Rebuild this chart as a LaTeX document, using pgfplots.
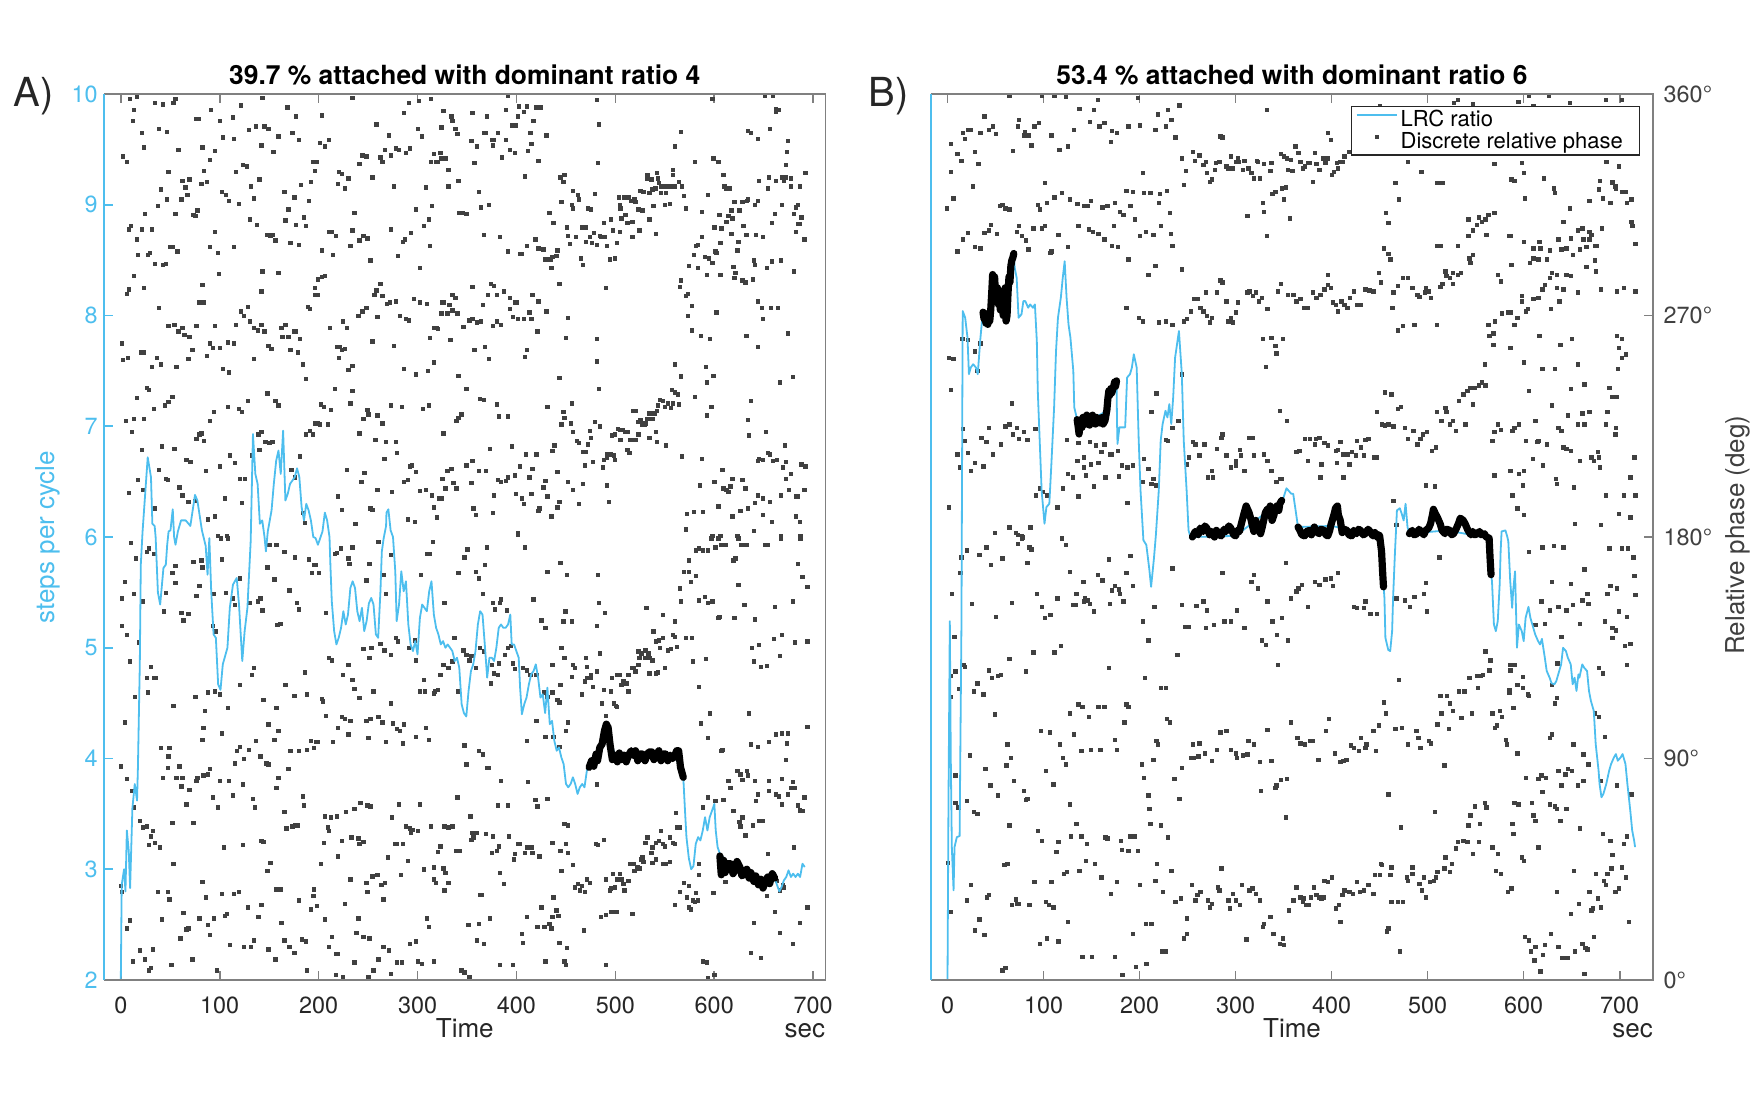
\documentclass[border=0pt]{standalone}
\usepackage{fontspec}
\setmainfont{TeX Gyre Heros}
\usepackage{pgfplots}
\pgfplotsset{compat=1.18}
\definecolor{lrc}{HTML}{4DBEEE}
\definecolor{dotc}{HTML}{404040}
\definecolor{framec}{HTML}{808080}
\definecolor{txt}{HTML}{262626}
\definecolor{rtxt}{HTML}{404040}
\newcommand{\tickfont}{\fontsize{11.7}{13}\selectfont}
\newcommand{\labfont}{\fontsize{13}{15}\selectfont}
\pgfplotsset{
  panel/.style={
    scale only axis, height=443pt,
    ymin=2, ymax=10,
    clip mode=individual,
    tick align=inside, major tick length=4.5pt,
    axis line style={draw=none},
    xtick={0,100,200,300,400,500,600,700}, xtick pos=both,
    x tick style={color=framec, line width=0.8pt},
    xticklabel style={font=\tickfont, color=txt, inner sep=0pt, yshift=-8.5pt},
    /pgf/number format/assume math mode=true,
    every axis title/.style={font=\bfseries\fontsize{13.2}{15}\selectfont, color=black, at={(0.5,1)}, anchor=base, yshift=5pt, inner sep=0pt},
    xlabel style={font=\labfont, color=txt, at={(0.5,0)}, anchor=base, yshift=-28.5pt, inner sep=0pt},
  },
  dotstyle/.style={only marks, mark=square*, mark size=0.85pt, color=dotc, mark options={line width=0.1pt}},
  lrcstyle/.style={color=lrc, line width=0.9pt, no markers, line join=round},
  lockstyle/.style={color=black, line width=3.6pt, no markers, line join=round, line cap=round},
  lrclegend/.style={legend image code/.code={\draw[##1] (0pt,2.6pt) -- (20pt,2.6pt);}},
  dotlegend/.style={legend image code/.code={\draw[##1] plot coordinates {(10pt,2.6pt)};}},
}
\begin{document}
\begin{tikzpicture}
\useasboundingbox (0,0) rectangle (877pt,552pt);
% ---------------- Panel A ----------------
\begin{axis}[panel, at={(52pt,62pt)}, anchor=south west, width=360.75pt,
  xmin=-17, xmax=712.5,
  ytick={2,3,4,5,6,7,8,9,10}, ytick pos=left,
  y tick style={color=lrc, line width=0.8pt},
  yticklabel style={font=\tickfont, color=lrc, inner sep=0pt, xshift=-3pt},
  title={39.7 \% attached with dominant ratio 4},
  xlabel={Time}]
\addplot[dotstyle] coordinates {
(2,9.44)(6,9.39)(9,9.96)(16,9.98)(13,9.86)(12,9.76)(21,9.65)(23,9.52)(34,9.92)(42,9.91)(53,9.92)(55,9.96)(38,9.69)(46,9.66)(48,9.30)(40,9.14)(46,9.05)(37,8.99)(24,8.92)(10,8.81)(8,8.78)(16,8.69)(21,8.78)(31,8.78)(17,8.55)(27,8.55)(29,8.57)(34,8.47)(42,8.46)(45,8.47)(50,8.62)(52,8.62)(57,8.58)(13,8.36)(8,8.24)(6,8.20)(23,8.25)(38,8.07)(1,7.75)(2,7.60)(7,7.62)(20,7.67)(23,7.67)(31,7.54)(36,7.62)(40,7.56)(26,7.35)(28,7.33)(16,7.26)(5,7.05)(13,7.07)(23,7.07)(11,6.95)(33,7.16)(44,7.19)(48,7.22)(52,7.27)(21,6.79)(41,6.82)(38,6.61)(54,6.80)(45,6.53)(47,6.52)(17,6.52)(8,6.40)(22,6.43)(34,6.26)(58,9.50)(62,9.22)(65,9.16)(69,9.23)(67,9.09)(61,9.05)(76,9.78)(78,9.78)(82,9.52)(81,9.19)(87,9.21)(84,9.31)(90,9.41)(91,9.86)(95,9.49)(55,8.92)(73,8.91)(77,8.95)(75,8.90)(82,8.28)(79,8.12)(83,8.12)(48,7.91)(54,7.92)(58,7.86)(62,7.89)(64,7.83)(69,7.81)(76,7.91)(56,7.54)(68,7.61)(72,7.69)(87,7.64)(90,7.75)(93,7.71)(95,7.91)(79,6.93)(81,6.94)(76,6.89)(84,6.87)(59,6.45)(62,6.38)(66,6.70)(70,6.68)(68,6.32)(75,6.33)(88,6.16)(95,6.19)(90,7.05)(94,7.13)(86,6.60)
(100,9.76)(103,9.61)(114,9.60)(113,9.79)(121,9.90)(99,8.38)(98,8.57)(90,8.62)(95,8.76)(102,9.12)(106,9.09)(109,9.04)(119,9.01)(114,8.62)(116,9.30)(123,9.36)(127,9.35)(103,7.52)(109,7.49)(108,7.76)(100,7.71)(114,7.75)(116,7.92)(121,8.04)(124,8.00)(128,8.08)(130,7.95)(134,7.89)(131,9.17)(134,9.06)(140,9.23)(143,8.40)(142,8.22)(148,8.73)(151,8.72)(153,8.73)(156,8.68)(129,9.68)(136,9.71)(142,9.54)(145,9.71)(149,9.69)(154,9.48)(159,9.62)(168,9.88)(177,9.80)(173,9.65)(180,9.59)(143,9.97)(137,8.82)(130,8.87)(165,9.12)(175,9.07)(169,8.96)(166,8.86)(177,8.82)(185,8.89)(187,8.81)(182,9.18)(190,9.04)(171,8.66)(180,8.64)(159,8.39)(108,7.18)(100,6.64)(105,6.35)(110,6.74)(115,6.67)(120,6.53)(122,6.31)(125,6.53)(107,6.01)(98,6.01)(119,7.16)(122,7.13)(128,7.23)(134,7.61)(138,7.87)(142,7.92)(145,7.86)(149,7.73)(152,7.70)(162,7.89)(166,7.92)(163,7.81)(169,7.81)(175,7.86)(177,7.86)(181,7.79)(171,7.69)(179,7.67)(184,7.56)(187,7.43)(148,7.30)(156,7.23)(159,7.19)(139,6.93)(142,6.95)(146,6.86)(150,6.85)(132,6.74)(140,6.79)(153,6.86)(172,6.61)(176,6.54)(181,6.73)(191,6.96)(194,6.93)(184,6.22)(186,6.13)
(203,9.81)(201,9.56)(206,9.53)(210,9.59)(194,9.39)(198,9.39)(196,9.31)(192,9.21)(203,8.59)(210,8.76)(213,8.76)(217,8.72)(214,8.55)(220,9.30)(223,9.28)(219,9.19)(226,9.15)(230,9.24)(236,8.93)(234,9.97)(234,8.77)(232,8.63)(241,8.68)(245,8.72)(249,8.70)(252,8.50)(241,9.37)(244,9.45)(248,9.44)(254,9.25)(258,9.73)(262,9.43)(264,9.39)(267,9.50)(271,9.63)(273,9.45)(278,9.51)(281,9.50)(288,9.47)(292,9.51)(286,9.83)(291,9.92)(301,9.94)(300,9.69)(304,9.62)(313,9.96)(276,9.17)(273,8.78)(285,8.67)(287,8.69)(280,8.54)(293,8.75)(298,8.96)(306,8.81)(308,9.16)(311,8.87)(314,8.99)(316,9.46)(313,9.39)(312,8.63)(302,8.43)(196,8.25)(199,8.33)(203,8.35)(206,8.36)(196,8.19)(199,8.19)(189,8.08)(191,8.06)(211,7.89)(224,7.95)(221,7.72)(223,7.69)(226,7.70)(220,7.62)(218,7.72)(234,7.55)(230,7.51)(228,7.89)(240,8.00)(244,8.04)(248,8.07)(259,7.99)(256,8.19)(258,8.23)(262,8.29)(264,8.18)(269,8.11)(272,8.12)(278,8.13)(282,8.00)(288,7.97)(291,7.96)(296,8.15)(302,8.12)(309,8.11)(254,7.77)(276,7.73)(286,7.52)(298,7.47)(310,7.50)(316,7.58)(319,7.89)(320,7.88)(325,8.12)(330,8.02)(333,7.78)(216,7.34)(209,7.02)(202,7.20)(205,7.18)(212,7.15)(201,7.02)(196,7.03)(199,7.03)(187,6.93)(232,7.21)(234,7.32)(241,6.94)(245,7.07)(249,7.15)(250,7.11)(257,6.88)(259,7.10)(264,7.03)(268,6.86)(273,7.19)(278,6.86)(284,7.18)(279,6.76)(266,6.71)(259,6.43)(274,6.41)(286,6.50)(290,6.52)(292,6.64)(294,6.65)(298,6.59)(302,6.42)(305,7.16)(311,7.19)(308,6.43)(237,6.12)(243,6.50)(246,6.58)(228,6.61)(219,6.37)(223,6.25)(290,6.16)(297,6.14)(252,6.26)(254,6.25)
(326,9.85)(334,9.80)(338,9.69)(340,9.64)(324,9.70)(328,9.42)(318,9.39)(324,9.42)(320,9.39)(331,9.32)(323,9.47)(335,9.76)(355,9.83)(370,9.80)(367,9.65)(369,9.65)(354,9.58)(360,9.53)(375,9.59)(377,9.59)(381,9.65)(376,9.54)(389,9.59)(399,9.72)(395,9.72)(407,9.84)(402,9.89)(410,9.89)(417,9.76)(401,9.80)(389,9.86)(391,9.99)(414,9.65)(415,9.55)(430,9.63)(420,9.88)(424,9.88)(393,9.50)(398,9.47)(411,9.49)(385,9.43)(422,9.40)(357,9.38)(341,9.22)(331,9.17)(362,9.12)(372,9.00)(364,8.98)(345,8.93)(349,8.92)(342,8.93)(367,8.73)(383,8.71)(391,8.58)(405,8.56)(408,9.26)(422,8.13)(416,8.19)(398,8.12)(400,8.12)(393,8.16)(387,8.22)(380,8.19)(377,8.27)(371,8.19)(374,8.29)(366,8.10)(355,8.26)(335,8.19)(338,8.16)(326,8.12)(332,8.10)(335,8.05)(340,8.02)(330,8.02)(324,8.02)(352,7.96)(355,7.97)(360,7.94)(346,7.90)(364,7.95)(376,7.91)(380,7.95)(384,7.92)(393,8.06)(396,7.99)(401,7.97)(407,7.97)(413,8.03)(415,7.97)(421,7.86)(430,8.04)(312,7.80)(316,7.89)(319,7.89)(341,7.46)(349,7.34)(357,7.69)(368,7.72)(372,7.61)(408,7.63)(410,7.69)(363,7.25)(367,7.24)(380,7.20)(382,7.09)(391,7.09)(431,7.18)(341,7.08)(344,7.11)(339,7.05)(326,6.94)(330,6.60)(334,6.62)(325,6.53)(328,6.44)(336,6.49)(339,6.44)(349,6.65)(355,6.69)(362,6.60)(369,6.60)(354,6.49)(373,6.80)(381,6.52)(384,6.50)(389,6.51)(391,6.54)(395,6.82)(398,6.56)(403,6.64)(409,6.75)(413,6.54)(416,6.62)(399,6.39)(405,6.35)(407,6.30)(415,6.39)(429,6.51)(427,6.45)(423,6.26)(422,6.24)(435,6.19)(431,6.37)(377,6.38)(376,6.22)(359,6.20)(356,6.26)(316,6.27)(319,6.18)(321,6.35)(324,6.35)(314,6.38)(401,6.04)(420,6.75)
(444,9.25)(448,9.27)(447,9.21)(457,9.13)(462,9.09)(463,9.05)(445,9.03)(456,9.00)(457,8.97)(472,8.97)(475,8.96)(479,9.10)(488,8.84)(495,8.87)(433,8.93)(437,8.84)(451,8.80)(466,8.80)(470,8.80)(460,8.71)(474,8.71)(485,8.71)(484,8.72)(478,8.75)(481,8.64)(491,8.63)(489,8.71)(501,8.66)(497,8.77)(504,8.76)(505,8.97)(504,9.00)(503,9.07)(506,8.88)(510,8.91)(509,9.07)(513,9.07)(516,9.04)(519,9.05)(520,9.03)(523,8.96)(525,9.13)(528,9.12)(532,9.24)(534,9.11)(536,9.23)(537,9.14)(540,9.15)(544,9.20)(543,9.24)(546,9.17)(549,9.17)(551,9.11)(553,9.17)(556,9.17)(558,9.32)(558,9.27)(560,9.17)(564,9.21)(567,9.17)(569,9.08)(546,9.11)(532,9.27)(542,9.29)(517,8.71)(524,8.77)(541,8.74)(538,8.99)(550,9.00)(555,9.01)(571,8.97)(527,8.95)(534,8.87)(517,8.85)(512,8.84)(419,8.69)(422,8.61)(410,8.63)(403,8.56)(427,8.60)(429,8.51)(434,8.51)(436,8.53)(441,8.59)(440,8.54)(435,8.43)(443,8.29)(452,8.72)(454,8.65)(465,8.52)(467,8.46)(470,8.67)(476,8.66)(494,8.51)(499,8.52)(490,8.25)(482,9.38)(483,9.73)(481,9.95)(447,7.13)(448,7.08)(456,7.21)(457,6.95)(445,7.02)(455,7.03)(461,6.87)(463,6.85)(467,6.77)(470,6.77)(474,6.96)(475,6.90)(472,6.84)(479,7.04)(484,7.00)(483,7.34)(481,7.59)(481,7.79)(450,7.80)(443,7.44)(452,7.98)(491,6.75)(495,6.75)(498,6.74)(499,6.70)(488,6.70)(487,6.63)(491,6.72)(496,6.92)(499,6.93)(502,6.98)(504,6.97)(505,6.88)(507,6.97)(510,6.95)(512,6.95)(515,6.88)(518,7.14)(520,7.14)(523,7.04)(525,7.06)(527,7.02)(529,7.02)(530,7.03)(534,6.90)(534,7.12)(537,7.07)(539,7.12)(542,7.14)(543,7.19)(545,7.24)(548,7.23)(550,7.18)(553,7.21)(556,7.17)(558,7.21)(557,7.33)(560,7.31)(563,7.29)(564,7.20)(542,6.86)(551,6.83)(541,6.95)(532,7.07)(520,6.88)(523,6.93)(512,6.79)(514,6.76)(457,6.43)(452,6.50)(463,6.30)(467,6.48)(491,6.47)(493,6.32)(469,6.65)(477,6.68)(441,6.59)(438,6.83)(436,6.78)(441,6.27)(443,6.32)(567,6.73)(571,6.07)(560,7.56)(566,7.46)(560,9.53)(566,9.66)
(580,9.39)(599,9.42)(604,9.39)(609,9.27)(612,9.15)(615,9.15)(610,9.17)(593,9.09)(587,8.94)(605,8.91)(600,8.80)(607,8.79)(612,8.85)(617,8.95)(618,8.88)(614,8.90)(620,9.03)(625,8.95)(628,9.03)(634,9.05)(633,9.04)(644,9.04)(641,9.00)(645,9.22)(654,9.15)(655,9.25)(662,9.22)(668,9.25)(670,9.22)(672,9.25)(677,9.24)(677,9.17)(686,9.17)(692,9.29)(682,8.98)(684,9.00)(680,8.92)(688,8.89)(684,8.83)(686,8.83)(682,8.76)(691,8.69)(668,9.00)(661,8.92)(658,8.84)(649,8.71)(642,8.73)(632,8.73)(629,8.81)(617,8.74)(587,8.71)(583,8.64)(581,8.63)(579,8.55)(590,8.53)(594,8.52)(598,8.48)(601,8.58)(602,8.57)(606,8.66)(624,8.67)(623,8.59)(619,8.44)(621,8.39)(620,8.34)(628,8.32)(631,8.30)(639,8.33)(641,8.46)(640,8.50)(653,8.43)(658,8.49)(667,8.50)(680,8.40)(574,8.45)(583,8.43)(592,8.37)(606,8.37)(566,8.32)(565,8.26)(573,8.20)(571,8.18)(577,8.09)(573,8.00)(577,7.87)(586,7.82)(595,7.79)(602,8.03)(644,8.13)(648,8.07)(649,7.97)(657,8.07)(664,8.07)(632,7.82)(644,7.72)(674,7.84)(634,9.67)(637,9.65)(644,9.60)(656,9.69)(662,9.87)(665,9.86)(674,9.58)(673,9.48)(672,9.36)(598,9.96)(651,9.99)(659,9.99)(662,9.84)(566,7.45)(591,7.54)(592,7.40)(599,7.46)(580,7.27)(592,7.10)(597,7.18)(637,7.23)(634,7.06)(635,6.92)(652,6.95)(666,7.40)(679,7.45)(671,6.83)(654,6.76)(656,6.75)(645,6.71)(644,6.69)(649,6.70)(659,6.69)(663,6.70)(672,6.68)(677,6.57)(669,6.63)(672,6.53)(688,6.66)(692,6.64)(608,6.61)(600,6.50)(609,6.44)(612,6.43)(616,6.46)(618,6.53)(628,6.52)(631,6.44)(614,6.41)(585,6.47)(587,6.71)(644,6.38)(649,6.35)(656,6.32)(667,6.38)(675,6.43)(682,6.37)(684,6.37)(691,6.43)(604,6.28)(572,6.21)(579,6.23)(588,6.23)(618,6.19)(626,6.24)(634,6.26)(641,6.31)(649,6.20)(658,6.14)(682,6.19)(686,6.14)(640,6.06)(606,6.01)(598,6.01)(623,6.01)(667,6.01)(687,6.01)
(10,5.95)(15,5.81)(26,5.87)(28,5.90)(33,5.85)(4,5.60)(13,5.49)(1,5.45)(22,5.42)(45,5.50)(43,5.33)(55,5.59)(52,5.68)(55,5.74)(61,5.32)(63,5.25)(68,5.31)(73,5.78)(81,5.79)(82,5.73)(79,5.56)(76,5.47)(94,5.49)(96,5.15)(93,5.20)(102,5.80)(101,5.99)(108,5.99)(106,5.50)(120,5.63)(115,5.39)(113,5.45)(130,5.41)(138,5.42)(141,5.45)(143,5.34)(148,5.73)(150,5.93)(157,5.93)(155,5.62)(165,5.87)(170,5.52)(176,5.82)(178,5.41)(180,5.35)(161,5.22)(158,5.21)(195,5.75)(197,5.75)(190,5.80)(193,5.68)(200,5.68)(207,5.32)(216,5.85)(218,5.86)(222,5.90)(230,5.81)(234,5.91)(231,5.76)(251,5.76)(248,5.61)(268,5.49)(260,5.96)(273,5.84)(265,5.66)(309,5.85)(312,5.85)(315,5.96)(303,5.66)(327,5.41)(341,5.68)(347,5.82)(350,5.89)(359,5.69)(362,5.63)(368,5.75)(370,5.91)(366,5.49)(376,5.41)(383,5.41)(384,5.44)(378,5.35)(390,5.34)(401,6.02)(408,5.91)(417,5.44)(425,5.25)(429,5.18)(431,5.69)(449,5.33)(451,5.66)(456,5.24)(447,5.24)(444,5.77)(481,5.20)(482,5.66)(483,5.41)(489,5.32)(531,5.36)(548,5.30)(560,5.24)(566,5.42)(569,5.69)(574,5.69)(565,5.54)(576,5.60)(581,5.65)(574,5.79)(584,5.90)(581,5.88)(588,5.88)(593,5.88)(597,5.99)(601,5.91)(604,5.99)(607,5.93)(611,5.93)(619,5.79)(621,5.81)(624,5.99)(627,5.93)(632,5.93)(651,5.93)(654,5.93)(667,5.99)(687,5.99)(684,5.76)(689,5.64)(694,5.55)(624,5.57)(590,5.46)(584,5.43)(593,5.41)(598,5.42)(604,5.27)(620,5.27)(641,5.26)(630,5.39)(661,5.37)(679,5.42)(660,5.08)(668,5.12)(681,5.05)(577,5.09)(571,5.09)
(638,5.00)(645,5.03)(640,4.88)(647,4.83)(653,4.84)(666,4.93)(578,4.88)(591,4.90)(584,4.65)(595,4.41)(586,4.32)(593,4.19)(607,4.07)(608,4.08)(635,4.41)(637,4.13)(644,4.11)(655,4.15)(662,4.22)(668,4.23)(674,4.23)(673,4.14)(694,4.29)(672,3.99)(679,3.79)(694,5.06)(605,5.28)
(445,5.00)(448,4.91)(457,4.85)(459,4.82)(470,4.91)(471,4.83)(475,4.73)(484,4.95)(469,4.70)(477,4.65)(466,4.58)(488,4.62)(486,4.50)(495,4.61)(496,4.73)(501,4.76)(504,4.76)(506,4.67)(508,4.70)(511,4.68)(513,4.61)(518,4.82)(520,4.79)(523,4.85)(524,4.91)(526,4.95)(530,4.98)(533,4.95)(534,4.91)(534,4.77)(537,4.89)(538,5.15)(541,5.06)(544,5.07)(545,5.00)(548,5.09)(550,4.82)(553,4.98)(556,4.99)(558,5.12)(560,5.10)(562,5.01)(541,4.77)(543,4.78)(523,4.97)(530,4.91)(513,4.76)(517,4.82)(498,4.50)(501,4.47)(490,4.39)(452,4.33)(481,4.79)(471,4.73)(475,4.76)
(436,4.85)(444,4.67)(436,4.60)(441,4.53)(443,4.51)(431,4.56)(428,4.60)(420,4.76)(414,4.76)(410,4.80)(406,4.82)(396,4.86)(398,4.81)(391,5.00)(388,4.94)(394,5.02)(382,4.86)(375,4.85)(381,4.76)(377,4.77)(374,4.68)(367,4.97)(363,5.00)(349,4.94)(352,4.89)(359,4.82)(354,4.93)(346,4.98)(341,4.61)(337,5.09)(335,4.88)(331,4.82)(326,4.85)(323,4.76)(320,4.62)(317,4.61)(316,4.59)(307,4.61)(306,4.71)(302,4.61)(298,4.89)(297,5.07)(291,5.00)(280,5.06)(278,5.09)(273,4.94)(266,4.98)(262,5.04)(253,5.00)(251,4.91)(245,4.99)(241,4.55)(255,4.61)(273,4.50)(236,4.63)(234,4.71)(230,4.85)(224,4.76)(213,4.89)(210,4.91)(203,4.54)(204,4.52)(186,4.78)(188,4.58)(175,4.57)(166,4.67)(157,4.46)(144,4.53)(134,4.82)(132,4.76)(120,4.67)(108,4.46)(88,4.60)(100,4.58)(95,4.61)(75,4.56)(53,4.48)(33,4.73)(35,4.73)(26,4.73)(30,4.83)(27,4.60)(14,4.56)(9,4.88)(1,5.20)(6,5.12)(18,5.05)(4,4.33)(40,4.10)(49,4.10)(48,4.02)(59,3.93)(47,3.92)(82,4.17)(85,4.43)(83,4.28)(102,4.23)(120,4.11)(117,4.07)(115,3.96)(124,4.00)(129,4.08)(136,4.16)(141,4.02)(147,3.96)(155,4.17)(149,4.31)(159,4.25)(171,4.07)(180,4.07)(188,4.08)(197,4.15)(199,4.15)(195,4.10)(192,4.16)(207,4.39)(214,4.15)(219,4.28)(223,4.38)(226,4.36)(230,4.22)(232,4.34)(248,4.34)(252,4.36)(260,4.38)(264,4.33)(250,4.19)(268,4.15)(275,4.32)(279,4.27)(282,4.25)(286,4.31)(285,4.14)(298,4.20)(308,4.28)(311,4.17)(347,4.12)(349,3.95)(362,4.07)(366,4.04)(370,3.92)(372,3.92)(384,3.80)(410,4.16)(420,4.34)(429,4.20)(437,4.20)(443,4.11)(450,4.25)(481,3.77)(500,4.48)(456,4.74)
(0,3.93)(6,3.82)(11,3.71)(13,3.56)(19,3.44)(22,3.38)(26,3.39)(30,3.30)(32,3.35)(28,3.22)(34,3.24)(39,3.20)(53,3.05)(52,3.42)(42,3.83)(56,3.83)(62,3.83)(61,3.75)(69,3.72)(77,3.83)(76,3.80)(83,3.85)(88,3.86)(90,3.91)(93,3.65)(98,3.56)(100,3.80)(109,3.80)(113,3.67)(123,3.77)(133,3.64)(135,3.56)(123,3.22)(104,3.20)(82,2.89)(73,3.42)(66,3.59)(157,3.74)(159,3.83)(149,3.95)(165,3.52)(169,3.91)(184,3.66)(185,3.58)(176,3.40)(179,3.40)(173,3.39)(167,3.37)(148,2.99)(151,3.06)(144,3.25)(142,3.26)(157,2.82)(161,2.82)(180,2.72)(195,2.82)(194,2.76)(202,3.05)(205,3.24)(206,3.48)(209,3.38)(210,3.35)(212,3.47)(218,3.48)(219,3.12)(223,3.26)(227,3.52)(232,2.91)(233,3.29)(236,3.55)(240,3.28)(241,3.23)(245,3.25)(242,3.60)(249,3.58)(252,3.57)(248,2.88)(249,2.80)(254,2.94)(259,2.95)(263,2.86)(267,2.88)(265,2.73)(270,3.11)(274,3.47)(277,3.23)(283,2.95)(279,3.23)(285,3.23)(281,3.59)(288,3.39)(290,3.08)(292,3.37)(295,3.36)(293,3.33)(300,3.35)(302,3.59)(306,3.00)(313,3.39)(316,3.02)(316,2.91)(318,2.88)(320,3.16)(323,3.21)(326,3.01)(328,2.97)(331,2.88)(327,3.39)(331,3.38)(335,3.39)(339,3.17)(342,3.17)(340,3.65)(353,3.48)(355,3.33)(354,3.27)(360,3.33)(356,3.29)(363,2.77)(369,3.32)(375,3.15)(376,3.30)(380,3.17)(381,3.58)(383,2.97)(382,3.21)(391,3.58)(392,3.30)(397,3.09)(398,3.14)(401,3.23)(403,3.23)(408,3.15)(410,3.20)(411,3.79)(415,3.20)(416,3.15)(419,3.63)(421,3.57)(423,3.12)(431,3.64)(436,3.24)(444,3.17)(445,2.99)(450,3.23)(452,3.15)(457,3.04)(448,3.41)(452,3.40)(459,2.84)(462,2.87)(464,2.81)(469,2.80)(471,2.91)(474,2.88)(466,2.85)(480,3.23)(482,3.22)(488,3.27)(490,2.91)(495,2.83)(494,2.81)(499,2.84)(497,2.96)(501,2.91)(504,2.96)(508,2.87)(506,2.91)(509,2.81)(513,2.90)(515,3.05)(518,3.05)(519,2.99)(522,3.02)(524,3.01)(526,3.09)(527,3.11)(530,3.24)(532,3.29)(536,3.15)(537,3.20)(541,3.24)(544,3.26)(548,3.23)(546,3.35)(550,3.21)(555,3.29)(558,3.24)(560,3.23)(528,3.07)(537,3.06)(541,3.09)(548,3.05)(551,3.05)(555,3.07)(562,3.38)(565,3.38)(561,3.51)(565,2.80)(569,2.88)(574,2.85)(572,2.75)(578,2.72)(583,2.72)(576,2.64)(581,2.79)(584,2.95)(599,2.79)(611,2.89)(654,3.14)(649,2.86)(666,2.81)(669,2.86)(670,2.84)(680,3.20)(653,2.76)
(588,3.56)(593,3.65)(601,3.62)(609,3.63)(614,3.80)(616,3.74)(619,3.53)(625,3.43)(628,3.47)(626,3.39)(631,3.31)(639,3.40)(645,3.44)(649,3.44)(644,3.68)(642,3.62)(634,3.85)(628,3.81)(626,3.86)(623,3.89)(633,3.89)(641,3.80)(655,3.71)(662,3.68)(665,3.66)(668,3.59)(674,3.68)(677,3.74)(681,3.74)(684,3.58)(686,3.54)(687,3.53)(689,3.53)(691,3.65)(668,3.82)(655,3.80)(663,2.90)(584,3.05)
(0,2.85)(1,2.80)(6,2.47)(9,2.54)(12,2.17)(19,2.27)(24,2.19)(28,2.09)(30,2.11)(32,2.28)(37,2.80)(47,2.80)(49,2.73)(41,2.55)(51,2.14)(60,2.38)(63,2.61)(66,2.46)(68,2.47)(72,2.19)(79,2.56)(86,2.75)(88,2.50)(90,2.41)(94,2.56)(97,2.09)(102,2.78)(105,2.58)(107,2.60)(110,2.32)(114,2.78)(119,2.80)(124,2.30)(128,2.66)(131,2.30)(134,2.36)(139,2.57)(142,2.68)(149,2.28)(156,2.19)(162,2.52)(165,2.36)(170,2.30)(175,2.25)(180,2.72)(183,2.37)(187,2.35)(188,2.09)(192,2.64)(195,2.76)(198,2.67)(206,2.55)(210,2.30)(213,2.39)(217,2.24)(219,2.24)(217,2.05)(224,2.03)(226,2.69)(236,2.16)(238,2.43)(240,2.56)(245,2.39)(251,2.38)(250,2.03)(255,2.09)(260,2.19)(265,2.30)(271,2.27)(273,2.06)(279,2.16)(284,2.16)(292,2.33)(298,2.35)(300,2.17)(304,2.15)(309,2.56)(311,2.48)(316,2.17)(327,2.81)(344,2.09)(347,2.07)(352,2.03)(351,2.50)(360,2.36)(362,2.51)(365,2.77)(367,2.33)(373,2.56)(383,2.14)(387,2.87)(396,2.14)(405,2.42)(406,2.34)(410,2.57)(421,2.48)(425,2.66)(428,2.48)(433,2.51)(435,2.47)(436,2.57)(437,2.75)(440,2.63)(442,2.58)(443,2.34)(448,2.17)(451,2.29)(450,2.14)(468,2.45)(485,2.57)(490,2.59)(495,2.62)(498,2.62)(501,2.62)(517,2.60)(490,2.14)(429,2.17)(560,2.68)(574,2.66)(580,2.71)(588,2.17)(592,2.16)(593,2.02)(600,2.05)(637,2.25)(647,2.20)(640,2.52)(661,2.62)(666,2.43)(679,2.33)(694,2.66)(686,2.52)
};
\addplot[lrcstyle] coordinates {
(0,2.0)(0.9,2.86)(3.3,3.0)(4.7,2.8)(6.1,3.35)(8.0,3.17)(9.4,2.83)(11.7,3.55)(14.1,3.77)(16.4,3.62)(17.3,3.92)(19.2,4.85)(20.2,5.75)(22.0,6.05)(27.2,6.72)(30.5,6.54)(31.9,6.12)(34.2,6.10)(35.2,6.0)(37.5,5.50)(39.8,5.39)(41.3,5.54)(43.1,5.72)(45.5,5.75)(46.9,5.93)(48.3,6.05)(50.2,6.06)(52.5,6.25)(53.9,6.0)(55.3,5.93)(57.7,6.05)(60.9,6.15)(65.6,6.15)(70.3,6.10)(75.0,6.38)(77.4,6.33)(82.0,6.06)(85.8,5.92)(87.7,5.66)(89.5,5.99)(91.4,5.51)(93.8,5.12)(96.1,5.09)(98.4,4.67)(100.8,4.62)(103.1,4.85)(107.8,5.0)(110.2,5.36)(113.4,5.57)(117.2,5.63)(119.5,5.39)(122.8,4.88)(125.2,5.15)(128.0,5.36)(131.3,5.96)(133.6,6.93)(136.0,6.57)(138.3,6.48)(140.6,6.12)(143.0,6.15)(145.3,6.0)(146.7,5.87)(148.6,6.05)(152.4,6.24)(154.7,6.48)(157.1,6.69)(159.4,6.78)(161.7,6.57)(164.1,6.96)(166.4,6.33)(168.8,6.39)(171.1,6.48)(173.5,6.51)(175.8,6.54)(178.2,6.62)(180.5,6.54)(182.8,6.27)(185.2,6.15)(187.5,6.30)(189.9,6.24)(192.2,6.15)(194.6,6.0)(196.9,5.99)(199.3,5.93)(201.6,5.99)(203.9,6.05)(206.3,6.22)(208.6,6.15)(211.0,6.0)(211.9,5.75)(213.3,5.42)(215.7,5.15)(218.0,5.03)(220.3,5.09)(222.7,5.18)(225.0,5.33)(227.4,5.21)(229.7,5.30)(232.1,5.54)(234.4,5.60)(236.8,5.54)(239.1,5.33)(241.4,5.24)(243.8,5.36)(246.1,5.15)(248.5,5.24)(250.8,5.40)(253.2,5.45)(255.5,5.39)(257.9,5.12)(260.2,5.09)(262.5,5.51)(263.9,5.87)(265.8,5.99)(268.2,6.10)(268.6,6.22)(270.5,6.25)(272.8,6.06)(275.2,6.0)(277.5,5.69)(278.9,5.24)(281.3,5.39)(283.6,5.69)(286.0,5.51)(288.3,5.60)(290.7,5.21)(293.0,5.03)(295.4,4.97)(297.7,5.06)(300.0,4.94)(302.4,5.27)(304.7,5.39)(307.1,5.36)(309.4,5.33)(311.8,5.51)(314.1,5.60)(316.5,5.30)(318.8,5.18)(321.1,5.12)(323.5,5.03)(325.8,5.06)(328.2,5.0)(330.5,5.03)(332.9,5.0)(335.2,4.97)(337.6,4.88)(339.9,4.91)(342.2,4.82)(344.6,4.49)(346.9,4.41)(349.3,4.38)(351.6,4.61)(354.0,4.79)(356.3,4.85)(358.6,4.97)(361.0,5.21)(363.3,5.33)(365.7,5.30)(368.0,5.03)(370.4,4.73)(372.7,4.91)(375.1,4.91)(377.4,4.88)(379.7,5.0)(382.1,5.18)(384.4,5.21)(386.8,5.18)(389.1,5.18)(391.5,5.21)(393.8,5.30)(395.2,5.03)(397.6,5.03)(399.9,4.97)(402.3,4.91)(403.7,4.64)(405.5,4.40)(407.9,4.49)(410.2,4.55)(412.6,4.67)(414.9,4.76)(417.3,4.79)(419.6,4.85)(421.9,4.73)(424.3,4.55)(426.6,4.58)(429.0,4.41)(431.3,4.64)(433.7,4.31)(436.0,4.34)(438.3,4.16)(440.7,4.07)(443.0,4.10)(445.4,4.01)(447.7,3.95)(450.1,3.77)(452.4,3.74)(454.8,3.77)(457.1,3.83)(459.4,3.77)(461.8,3.68)(464.1,3.74)(466.5,3.77)(468.8,3.74)(471.2,3.89)(473.5,3.95)(480,4.0)(490,4.3)(500,4.02)(520,4.04)(540,4.02)(560,4.02)(566,3.92)(568.7,3.83)(570.6,3.50)(571.9,3.29)(574.3,3.10)(576.7,3.0)(579.0,3.03)(581.3,3.23)(583.7,3.29)(586.0,3.26)(588.4,3.35)(590.7,3.47)(593.1,3.35)(595.4,3.47)(597.8,3.53)(600.1,3.59)(601.5,3.35)(603.4,3.20)(605.7,3.14)(620,3.0)(640,2.9)(661.1,2.92)(663.4,2.86)(665.8,2.80)(668.1,2.84)(670.4,2.90)(672.8,2.93)(675.1,2.99)(677.5,2.93)(679.8,2.96)(682.2,2.93)(684.5,2.96)(686.8,2.93)(689.2,3.05)(691.5,3.02)
};
\addplot[lockstyle] coordinates {
(473.5,3.92)(476,3.98)(478.2,3.93)(480.5,4.04)(482,3.98)(484.3,4.10)(486.6,4.13)(489.0,4.25)(490.9,4.31)(492.7,4.28)(494.6,4.13)(497.0,3.99)(499.3,4.03)(502,3.97)(504.0,4.05)(506,3.99)(508.7,4.03)(511,3.97)(513.4,4.03)(516,4.07)(518.1,4.03)(520.4,4.07)(522.7,3.98)(525,4.04)(527.4,4.04)(530,3.98)(532.1,4.03)(534,4.06)(536.8,4.06)(539,3.99)(541.5,4.03)(544,4.07)(546.2,3.98)(548.5,4.04)(550.9,4.04)(553,3.98)(555.6,4.03)(558,4.00)(560.2,4.03)(562,4.07)(564.0,4.07)(565.9,3.92)(568.7,3.83)
};
\addplot[lockstyle] coordinates {
(605.7,3.12)(607.1,2.95)(608,3.06)(609.5,3.08)(611,2.97)(611.8,3.0)(614,3.05)(616.5,3.05)(619,2.96)(621.2,3.0)(623,3.07)(625.9,3.02)(628,2.94)(630.6,2.96)(632.9,3.0)(635.3,2.92)(637,2.97)(640.0,2.89)(642,2.94)(644.6,2.86)(647,2.91)(649.3,2.83)(651.7,2.89)(654.0,2.93)(656,2.87)(658.7,2.96)(661.1,2.92)
};
\draw[framec, line width=0.9pt] (rel axis cs:0,1) -- (rel axis cs:1,1) -- (rel axis cs:1,0) -- (rel axis cs:0,0);
\draw[lrc, line width=0.9pt] (rel axis cs:0,0) -- (rel axis cs:0,1);
\node[font=\labfont, color=txt, anchor=base east, inner sep=0pt, yshift=-28.5pt] at (rel axis cs:1,0) {sec};
\end{axis}
% ---------------- Panel B ----------------
\begin{axis}[panel, at={(465.35pt,62pt)}, anchor=south west, width=361.3pt,
  xmin=-17.5, xmax=735,
  ytick={2,4,6,8,10}, yticklabels={0°,90°,180°,270°,360°},
  ytick pos=right, yticklabel pos=right,
  y tick style={color=framec, line width=0.8pt},
  yticklabel style={font=\tickfont, color=rtxt, anchor=west, inner sep=0pt, xshift=5pt},
  title={53.4 \% attached with dominant ratio 6},
  xlabel={Time},
  legend style={at={(0.9816,0.9865)}, anchor=north east, draw=txt, line width=0.6pt, fill=white,
    font=\fontsize{11}{12}\selectfont, inner xsep=2.15pt, inner ysep=1.3pt, row sep=0pt,
    nodes={inner sep=0.5pt, text height=8.4pt, text depth=1.4pt},
    /tikz/every odd column/.append style={column sep=1pt}},
  legend cell align=left]
\addlegendimage{lrcstyle, lrclegend}
\addlegendentry{LRC ratio}
\addlegendimage{dotstyle, dotlegend}
\addlegendentry{Discrete relative phase\rule{5.6pt}{0pt}}
\addplot[dotstyle, forget plot] coordinates {
(64,9.99)(98,9.99)(111,9.99)(123,9.98)(156,9.95)(198,9.97)(241,9.90)(229,9.86)(219,9.82)(233,9.77)(216,9.68)(227,9.71)(237,9.61)(200,9.72)(188,9.71)(176,9.65)(171,9.67)(170,9.57)(163,9.74)(158,9.71)(148,9.75)(152,9.86)(137,9.87)(131,9.68)(125,9.53)(116,9.50)(108,9.63)(95,9.74)(90,9.71)(84,9.63)(80,9.66)(79,9.63)(74,9.77)(73,9.71)(68,9.49)(87,9.54)(50,9.64)(47,9.71)(43,9.68)(38,9.80)(34,9.65)(24,9.68)(21,9.68)(18,9.60)(16,9.65)(3,9.55)(10,9.46)(14,9.40)(28,9.48)(32,9.37)(332,9.86)(284,9.62)(286,9.61)(531,9.95)(547,9.91)(527,9.92)(605,9.99)(626,9.99)(648,9.92)(685,9.95)(702,9.95)(594,9.93)(450,9.89)(396,9.65)(399,9.59)(610,9.89)
(244,9.42)(248,9.31)(246,9.18)(255,9.48)(257,9.40)(262,9.45)(266,9.36)(269,9.39)(273,9.21)(275,9.23)(270,9.29)(278,9.32)(279,9.38)(283,9.39)(290,9.35)(292,9.33)(295,9.44)(297,9.33)(300,9.39)(302,9.42)(303,9.39)(307,9.32)(309,9.40)(313,9.33)(316,9.29)(319,9.24)(322,9.40)(323,9.39)(325,9.24)(329,9.37)(336,9.31)(337,9.38)(347,9.46)(350,9.44)(353,9.42)(354,9.32)(357,9.41)(359,9.31)(362,9.53)(365,9.47)(367,9.39)(370,9.33)(372,9.35)(375,9.38)(377,9.38)(380,9.21)(382,9.47)(384,9.37)(387,9.32)(391,9.42)(393,9.38)(396,9.42)(400,9.27)(402,9.30)(405,9.38)(406,9.33)(409,9.39)(411,9.39)(413,9.44)(418,9.48)(466,9.20)(510,9.20)(515,9.20)(493,9.30)(479,9.39)(569,9.37)(587,9.23)(590,9.22)(598,9.38)(600,9.29)(621,9.24)(631,9.15)(632,9.11)(601,9.06)(686,9.39)(699,9.35)(679,9.22)(678,9.14)(692,9.21)(695,9.17)(696,9.15)(702,9.12)(706,9.12)(682,9.06)(668,9.04)(690,9.02)(712,9.05)(707,9.02)(648,8.97)(641,8.85)
(-1,8.97)(6,9.06)(3,9.30)(26,9.17)(60,8.97)(57,9.00)(54,8.99)(64,8.96)(94,9.00)(96,8.96)(103,9.02)(111,9.07)(119,9.11)(127,9.05)(135,9.01)(142,8.99)(146,8.99)(149,9.04)(161,8.98)(166,8.99)(174,9.02)(179,8.94)(183,8.91)(190,8.99)(186,9.13)(193,9.12)(204,9.11)(211,9.11)(221,9.10)(228,9.13)(231,8.93)(220,9.02)(195,8.87)(10,8.58)(16,8.69)(21,8.75)(28,8.62)(34,8.61)(38,8.75)(43,8.77)(45,8.82)(51,8.74)(74,8.81)(72,8.76)(77,8.72)(81,8.68)(84,8.60)(89,8.79)(98,8.79)(101,8.81)(115,8.73)(125,8.62)(108,8.58)(107,8.57)(136,8.81)(147,8.78)(151,8.76)(157,8.74)(163,8.69)(171,8.63)(177,8.62)(173,8.81)(200,8.72)(206,8.76)(214,8.73)(222,8.81)(232,8.74)(234,8.63)(188,8.51)(216,8.45)(244,8.42)(209,8.37)(203,9.29)(101,9.20)(328,9.02)(329,8.94)(338,9.10)(341,9.12)(348,9.15)(352,9.16)(350,9.05)(312,8.90)(356,8.88)(332,8.72)(456,8.93)(459,8.84)(470,9.05)(553,8.89)(556,8.85)(560,8.87)(563,8.91)(569,8.93)(542,8.87)(551,8.82)(547,8.77)(542,8.72)(561,8.73)(586,8.72)(600,8.67)(616,8.67)(636,8.69)(649,8.70)(656,8.77)(661,8.79)(668,8.76)(670,8.73)(662,8.69)(668,8.69)(674,8.63)(681,8.79)(610,8.61)(617,8.61)(627,8.59)(639,8.60)(644,8.61)(651,8.55)(658,8.60)(665,8.62)(676,8.63)(513,8.63)(531,8.63)(510,8.63)(454,8.61)(459,8.56)(461,8.51)(585,8.72)(712,8.85)(713,8.81)(716,8.65)(606,8.48)(610,8.52)(615,8.51)(624,8.51)(629,8.39)(634,8.37)(644,8.37)(649,8.36)(665,8.44)(674,8.50)(675,8.40)(692,9.20)
(543,8.52)(547,8.55)(544,8.48)(534,8.39)(531,8.37)(526,8.39)(523,8.34)(518,8.40)(526,8.29)(515,8.29)(513,8.26)(519,8.36)(503,8.16)(501,8.22)(498,8.25)(497,8.21)(489,8.19)(491,8.17)(484,8.25)(479,8.34)(474,8.34)(469,8.27)(464,8.21)(463,8.07)(451,8.30)(449,8.39)(443,8.22)(439,8.23)(435,8.24)(430,8.10)(426,8.10)(423,8.22)(419,8.16)(416,8.07)(413,8.10)(410,8.13)(406,8.04)(404,8.10)(401,8.12)(399,8.25)(396,8.28)(396,8.37)(392,8.24)(388,8.19)(384,8.16)(380,8.21)(375,8.07)(371,8.07)(367,8.15)(363,8.13)(360,8.19)(354,8.19)(347,8.29)(344,8.22)(333,8.06)(327,8.16)(324,8.13)(321,8.21)(318,8.18)(314,8.22)(312,8.21)(302,8.12)(300,8.03)(295,7.98)(297,7.94)(292,7.95)(290,8.13)(286,8.30)(284,8.32)(280,8.21)(275,7.98)(273,7.94)(270,8.00)(269,8.21)(266,8.04)(263,8.07)(260,8.15)(256,8.15)(253,8.04)(249,7.97)(246,7.95)(234,7.92)(227,7.95)(220,7.94)(203,7.95)(199,7.98)(186,8.07)(573,8.37)(576,8.31)(587,8.46)(590,7.92)(586,8.03)(593,7.98)(598,8.13)(602,8.04)(610,8.15)(615,8.16)(619,8.24)(622,8.28)(627,8.34)(634,8.25)(641,8.24)(644,8.37)(656,8.21)(680,8.24)(697,8.22)(704,8.25)(716,8.22)(616,7.82)(628,8.06)(637,8.13)(604,8.06)(598,8.18)(570,7.95)(563,7.92)(577,8.02)(583,8.03)(568,7.84)(469,7.87)(474,7.91)(486,7.92)(509,7.92)
(1,7.62)(6,7.61)(15,7.79)(21,7.78)(28,7.68)(34,7.75)(31,7.50)(21,6.76)(35,6.90)(43,6.99)(55,6.84)(60,7.00)(64,7.02)(72,6.99)(79,6.95)(91,6.98)(83,6.88)(68,6.93)(74,6.89)(47,6.75)(40,6.86)(3,7.33)(1,6.27)(10,6.75)(13,6.63)(18,6.87)(16,6.98)(24,6.60)(28,6.67)(37,6.64)(49,6.04)(64,6.09)(71,6.04)(77,6.01)(86,6.09)(67,7.21)(96,6.44)(99,6.41)(103,6.38)(92,6.38)(114,6.27)(136,6.37)(152,6.46)(144,6.56)(130,6.54)(125,6.57)(120,6.44)(124,6.88)(136,6.85)(148,6.86)(154,6.83)(163,6.84)(169,6.75)(171,6.75)(177,6.78)(160,6.77)(142,6.72)(135,6.69)(142,6.63)(149,6.66)(157,6.67)(164,6.54)(178,6.55)(187,6.31)(203,6.50)(212,6.48)(217,6.47)(187,6.63)(181,6.65)(193,6.65)(204,6.71)(209,6.62)(214,6.53)(212,7.13)(217,7.30)(227,6.88)(229,6.87)(234,6.99)(240,7.05)(244,7.47)(249,6.66)(251,6.72)(255,6.86)(258,6.84)(262,6.74)(267,6.84)(271,6.54)(276,6.54)(275,6.60)(280,6.80)(286,6.93)(285,6.90)(290,6.74)(295,6.63)(300,6.65)(300,6.69)(305,6.74)(304,6.79)(309,6.60)(314,6.90)(318,6.90)(319,6.74)(329,6.75)(333,6.69)(337,6.60)(346,6.53)(348,6.53)(342,6.50)(363,6.77)(366,6.78)(375,6.69)(372,6.89)(377,6.89)(383,6.89)(387,6.90)(382,6.84)(392,6.85)(396,6.83)(406,6.79)(409,6.86)(412,6.75)(416,6.75)(421,6.77)(425,6.74)(426,6.87)(433,6.74)(430,6.81)(435,6.88)(438,6.89)(444,6.72)(447,6.72)(404,6.78)(418,6.66)(405,6.67)(388,6.54)(346,7.14)(353,7.05)(331,7.54)(328,7.79)(337,7.80)(341,7.73)(342,7.66)(349,7.79)(455,7.31)(462,7.29)(447,7.13)(452,7.02)(455,7.01)(459,7.02)(464,7.00)(469,7.16)(472,7.18)(476,6.99)(479,6.89)(485,6.96)(489,6.84)(492,6.89)(495,6.93)(499,6.95)(504,6.78)(508,6.81)(509,7.13)(514,7.05)(518,7.17)(519,7.13)(523,7.02)(526,7.05)(529,6.96)(532,7.23)(537,7.29)(541,7.32)(544,7.35)(549,7.35)(553,7.37)(556,7.40)(560,7.37)(547,7.20)(539,7.02)(559,7.56)(573,7.02)(569,6.95)(576,6.97)(588,6.96)(590,6.99)(595,7.02)(602,6.87)(605,7.32)(612,7.05)(615,6.87)(624,6.84)(629,7.19)(636,6.99)(639,6.96)(646,7.10)(649,7.34)(656,7.02)(661,7.12)(663,7.02)(668,7.13)(677,6.77)(678,6.72)(673,6.69)(685,7.02)(687,7.13)(695,6.93)(697,7.27)(689,7.35)(692,7.27)(696,6.99)(698,7.52)(702,7.62)(706,7.65)(699,7.71)(702,7.79)(697,7.82)(663,7.38)(656,7.56)(650,7.79)(638,7.74)(632,7.52)(619,7.52)(600,7.58)(586,7.71)(568,7.74)(564,7.82)(567,6.87)(569,6.56)(586,6.60)(595,6.57)(600,6.60)(599,6.47)(609,6.71)(614,6.86)(620,6.65)(633,6.53)(634,6.48)(641,6.81)(644,6.80)(649,6.78)(652,6.45)(658,6.69)(670,6.72)(679,6.63)(685,6.38)(704,6.38)(711,6.54)(716,6.38)(715,6.72)(699,6.21)(711,6.18)(653,6.12)(680,6.11)(600,6.20)(593,6.26)(588,6.38)(507,6.46)(498,6.47)(467,6.11)(464,6.33)(412,6.54)(389,6.66)
(0,3.06)(3,2.62)(3,4.56)(3,4.75)(4,5.49)(7,5.10)(8,3.85)(8,4.79)(8,3.60)(11,3.56)(12,4.63)(13,5.68)(14,5.82)(17,4.85)(18,4.83)(20,2.72)(20,5.88)(20,3.62)(23,4.03)(25,5.40)(24,2.86)(27,4.61)(27,3.52)(28,2.45)(31,3.50)(31,4.68)(33,2.55)(33,5.84)(37,4.58)(38,2.41)(39,3.91)(40,5.91)(41,2.75)(43,2.77)(44,3.76)(45,3.76)(43,4.80)(45,5.75)(46,4.73)(49,4.40)(50,5.28)(52,4.75)(52,3.67)(55,4.76)(57,5.81)(57,2.09)(60,2.11)(59,3.04)(61,3.94)(62,3.05)(62,4.13)(64,3.40)(64,4.90)(66,4.01)(67,2.68)(67,5.41)(69,3.80)(71,2.73)(72,2.69)(73,6.02)(73,5.94)(74,2.69)(77,5.99)(78,6.0)(79,3.71)(81,3.63)(81,4.79)(83,5.77)(83,3.64)(85,5.91)(85,2.68)(87,5.89)(89,4.96)(90,2.89)(93,5.49)(94,3.35)(96,2.33)(97,4.25)(98,5.37)(98,3.26)(101,5.27)(102,2.71)(102,3.89)(103,2.38)(105,2.68)(106,4.24)(107,5.30)(108,2.89)(110,3.77)(110,2.66)(111,4.96)(113,3.16)(114,5.45)(115,3.25)(115,2.35)(117,4.13)(118,5.02)(119,5.99)(120,4.01)(121,2.96)(123,3.95)(123,5.93)(124,2.98)(125,2.53)(127,5.69)(127,3.59)(127,4.41)(128,3.30)(130,5.39)(131,4.22)(133,5.39)(134,5.49)(134,3.41)(136,4.49)(137,2.99)(139,4.07)(139,3.30)(140,4.47)(140,2.21)(141,5.60)(142,5.42)(143,5.45)(144,3.08)(145,3.23)(146,5.43)(147,4.38)(148,5.40)(149,4.08)(150,2.21)(152,5.33)(153,3.05)(156,5.66)(157,4.47)(159,4.08)(160,2.93)(161,5.61)(163,4.47)(164,3.29)(166,3.28)(168,4.82)(168,5.80)(169,5.40)(170,2.78)(171,5.52)(174,2.21)(174,5.56)(174,4.17)(176,4.08)(176,2.89)(178,5.53)(179,5.49)(180,3.26)(181,3.18)(182,2.05)(183,5.42)(184,4.33)(186,5.68)(186,4.49)(188,4.47)(188,3.17)(190,3.30)(190,5.83)(193,5.56)(193,2.42)(195,3.30)(196,2.12)(198,3.17)(200,2.86)(202,3.95)(203,5.24)(204,3.83)(205,4.73)(206,2.51)(207,2.15)(209,3.67)(209,5.07)(210,3.55)(211,3.41)(212,2.51)(214,3.99)(215,5.37)(216,2.90)(217,4.16)(218,3.05)(219,4.13)(222,4.64)(222,3.40)(223,2.26)(224,2.80)(227,4.64)(227,2.26)(228,4.36)(229,3.29)(231,4.33)(233,2.99)(234,5.72)(236,3.82)(237,2.71)(239,4.94)(241,3.64)(243,2.74)(244,5.39)(244,3.92)(246,2.38)(247,5.19)(249,2.56)(249,2.42)(251,5.19)(253,4.01)(254,2.86)(255,4.13)(256,4.01)(258,2.72)(259,5.38)(260,2.77)(261,4.02)(262,4.14)(263,2.80)(266,5.42)(268,4.05)(269,5.18)(270,5.34)(271,2.72)(273,2.66)(275,2.69)(275,3.98)(277,5.21)(280,4.08)(281,2.84)(283,2.81)(284,4.24)(285,3.01)(286,5.68)(288,5.24)(290,4.25)(292,2.72)(294,2.65)(295,4.08)(295,5.24)(297,2.78)(300,4.05)(300,2.72)(301,5.34)(301,4.01)(304,2.68)(306,2.86)(307,4.03)(309,5.18)(311,2.37)(312,4.04)(313,4.16)(314,2.81)(316,5.60)(317,2.83)(319,5.66)(319,4.13)(321,2.78)(323,5.54)(325,3.97)(325,2.72)(326,3.71)(327,5.07)(328,2.48)(329,2.51)(331,5.03)(333,4.26)(333,5.42)(336,2.57)(337,3.98)(338,5.24)(339,2.42)(341,3.74)(342,3.76)(343,5.12)(344,4.85)(346,2.33)(347,3.81)(348,5.27)(349,2.38)(350,2.32)(352,3.47)(352,5.77)(353,3.82)(354,5.07)(355,2.63)(357,4.33)(357,5.45)(360,2.72)(363,5.51)(363,2.84)(364,4.19)(365,5.54)(367,2.75)(367,4.14)(369,5.57)(370,2.71)(371,2.74)(372,4.13)(373,2.68)(375,5.37)(376,2.68)(377,4.16)(378,2.75)(380,4.16)(381,2.84)(382,5.60)(384,2.77)(386,3.99)(387,2.75)(387,5.57)(389,2.74)(391,2.75)(392,2.90)(393,5.62)(394,4.25)(396,2.89)(397,4.36)(399,5.63)(400,2.93)(401,5.56)(403,4.05)(404,2.65)(406,5.68)(407,2.68)(409,3.97)(409,2.53)(411,2.77)(412,3.98)(413,2.81)(415,3.99)(418,2.80)(420,4.12)(422,2.78)(423,4.10)(423,5.37)(426,5.36)(426,2.89)(428,4.07)(429,2.80)(430,4.19)(433,2.81)(433,5.36)(435,5.42)(435,4.10)(436,4.13)(438,2.86)(440,5.31)(443,4.25)(443,2.78)(445,2.95)(446,4.07)(447,5.31)(449,4.30)(450,2.95)(451,3.05)(452,3.04)(454,4.51)(456,4.41)(457,2.44)(459,2.47)(459,3.68)(461,2.95)(462,3.02)(462,2.71)(466,4.27)(467,5.45)(469,2.71)(470,4.71)(471,2.26)(472,3.38)(473,4.28)(474,2.71)(476,5.43)(478,2.93)(479,2.90)(479,4.13)(481,5.37)(484,3.02)(484,2.96)(486,5.46)(488,4.25)(490,4.19)(491,2.87)(492,4.10)(494,2.81)(496,2.93)(496,5.49)(498,2.75)(498,5.59)(499,5.33)(501,4.16)(502,2.89)(503,4.14)(506,2.90)(507,3.52)(508,2.93)(510,4.31)(510,2.98)(512,5.82)(513,4.57)(514,4.41)(517,3.01)(517,3.94)(518,3.11)(520,4.57)(522,4.27)(523,2.98)(523,4.50)(525,3.05)(526,4.43)(529,3.19)(531,3.25)(532,4.61)(535,4.37)(537,3.26)(538,4.61)(541,3.25)(542,3.40)(543,4.73)(544,3.49)(546,4.41)(547,3.14)(549,3.57)(551,4.75)(552,4.64)(553,3.25)(554,3.41)(555,4.75)(557,4.76)(559,3.60)(560,4.97)(561,3.56)(564,4.80)(565,4.89)(567,3.20)(567,4.41)(570,4.28)(571,2.99)(572,4.30)(573,3.14)(575,4.43)(576,2.96)(577,4.38)(581,4.17)(582,4.13)(583,2.80)(585,4.62)(586,4.85)(587,2.83)(588,3.41)(589,3.32)(590,3.60)(593,4.05)(594,3.59)(598,3.11)(599,4.64)(600,3.08)(601,2.39)(602,3.83)(604,4.58)(605,2.36)(607,2.26)(608,3.60)(610,3.49)(611,2.18)(612,2.30)(612,3.44)(615,3.82)(615,3.20)(617,2.08)(618,3.85)(619,3.70)(620,2.23)(622,2.32)(623,3.83)(627,3.59)(628,2.42)(629,4.22)(632,3.57)(634,3.55)(634,2.80)(636,2.30)(638,3.44)(639,3.76)(640,2.20)(643,3.86)(644,3.55)(645,2.20)(646,3.91)(649,2.60)(650,3.89)(651,4.13)(652,2.99)(653,2.26)(656,3.76)(657,2.69)(658,3.37)(661,2.33)(662,3.80)(663,2.06)(664,2.29)(666,2.28)(667,3.95)(668,2.80)(670,2.63)(672,2.65)(673,2.39)(675,2.96)(677,2.74)(680,2.66)(682,3.32)(683,2.90)(685,2.86)(687,2.96)(690,3.26)(691,3.01)(692,3.13)(695,2.80)(697,3.76)(699,2.83)(702,3.02)(704,3.23)(706,2.93)(707,3.30)(709,2.53)(712,3.68)
(605,5.87)(619,5.91)(631,5.92)(641,5.91)(663,5.71)(629,5.60)(649,5.58)(666,5.49)(667,5.40)(661,5.43)(687,5.49)(690,5.56)(697,5.54)(689,5.90)(702,5.90)(708,5.90)(714,5.82)(715,5.65)(716,5.48)(618,5.42)(627,5.34)(636,5.37)(651,5.39)(644,5.34)(639,5.10)(622,5.22)(612,5.21)(658,5.22)(684,5.24)(692,5.18)(696,5.16)(699,5.33)(707,5.28)(711,5.04)(705,5.02)(692,5.09)(678,4.82)(682,4.77)(707,4.85)(635,4.86)(629,4.67)(634,4.55)(632,4.50)(590,4.85)(586,4.80)(593,4.67)(599,4.74)(605,4.57)(589,4.46)(585,4.60)(674,4.41)(678,4.38)(684,4.20)(627,4.19)(652,4.13)(636,3.89)(662,4.04)(667,3.95)(680,3.80)
};
\addplot[lrcstyle, forget plot] coordinates {
(0,2.0)(1,3.6)(2.4,5.24)(3.4,4.0)(4.5,3.2)(6.3,2.81)(7.3,3.2)(9.7,3.29)(12.6,3.30)(14.5,5.2)(15.8,8.04)(18.4,7.98)(20.8,7.80)(22.3,7.47)(24.2,7.53)(26.7,7.56)(29.6,7.53)(31.5,7.47)(34,7.77)(35.9,7.95)(37,8.03)(42,7.92)(47.5,8.37)(52,8.22)(58,8.07)(61,7.95)(64,8.34)(67,8.52)(69,8.54)(70,8.43)(72,8.34)(74,7.98)(77,8.01)(79,8.13)(81,8.13)(84,8.07)(86,8.10)(89,8.07)(91,8.10)(93,7.77)(94,7.32)(96,6.87)(98,6.42)(101,6.12)(103,6.27)(106,6.30)(108,6.63)(111,7.17)(113,7.68)(115,7.98)(118,8.16)(120,8.34)(122,8.49)(124,8.16)(126,7.92)(128,7.80)(131,7.50)(132,7.17)(135,7.06)(150,7.06)(166,7.14)(170,7.33)(176,7.39)(176.5,7.05)(177,6.84)(179,6.99)(182,6.99)(185,6.99)(187,7.44)(190,7.47)(192,7.53)(194,7.65)(197,7.53)(199,6.90)(201,6.42)(204,5.97)(207,5.93)(210,5.72)(212,5.55)(215,5.81)(217,6.02)(220,6.42)(222,6.87)(224,7.02)(227,7.14)(229,7.08)(231,7.20)(233,7.02)(235,7.26)(237,7.62)(240,7.80)(241,7.86)(244,7.47)(246,6.87)(249,6.42)(251,6.06)(253,6.0)(255,6.0)(300,6.01)(348,6.33)(350,6.36)(353,6.44)(355,6.42)(358,6.39)(360,6.39)(363,6.21)(365,6.09)(400,6.1)(450,6.01)(452,5.87)(454,5.57)(455,5.45)(456,5.09)(459,4.98)(461,4.97)(463,5.15)(464,5.45)(466,5.87)(467,6.05)(468,6.24)(471,6.26)(473,6.21)(475,6.15)(477,6.30)(479,6.09)(481,6.03)(520,6.06)(564,5.99)(565,5.81)(566,5.66)(567,5.60)(569,5.21)(571,5.15)(573,5.24)(575,5.57)(576,5.87)(577,6.05)(581,6.06)(583,6.0)(584,5.96)(586,5.60)(588,5.36)(589,5.51)(591,5.69)(593,5.0)(595,5.21)(598,5.15)(600,5.06)(602,5.27)(605,5.37)(607,5.27)(610,5.18)(612,5.12)(615,5.06)(617,5.03)(619,5.08)(622,4.91)(624,4.79)(627,4.73)(629,4.68)(632,4.67)(634,4.70)(636,4.76)(639,4.85)(641,5.0)(644,4.97)(646,4.91)(649,4.85)(651,4.67)(653,4.73)(655,4.61)(657,4.76)(658,4.73)(661,4.85)(663,4.82)(666,4.79)(668,4.61)(670,4.52)(673,4.43)(675,4.13)(678,3.89)(679,3.77)(681,3.65)(683,3.68)(686,3.77)(689,3.89)(691,3.95)(694,4.01)(696,4.04)(698,3.98)(701,4.01)(703,4.04)(706,3.95)(708,3.77)(711,3.53)(713,3.35)(715,3.26)(716,3.20)
};
\addplot[lockstyle, forget plot] coordinates {
(37,8.03)(38,7.97)(39,8.02)(40,7.93)(41,8.0)(42,7.92)(43,7.98)(44,7.95)(45,8.05)(46,8.2)(47,8.37)(48,8.3)(49,8.35)(50,8.2)(51,8.15)(52,8.25)(53,8.1)(54,8.2)(55,8.05)(56,8.2)(57,8.1)(58,8.0)(59,8.15)(60,8.25)(61,7.95)(62,8.0)(63,8.2)(64,8.35)(65,8.3)(66,8.45)(67,8.5)(68,8.52)(69,8.56)
};
\addplot[lockstyle, forget plot] coordinates {
(135,7.06)(136,7.0)(137,6.93)(138,7.02)(140,6.99)(141,7.08)(142,7.06)(144,7.02)(145,7.1)(147,7.08)(148,7.01)(149,7.06)(151,7.1)(152,7.06)(154,7.02)(155,7.08)(157,7.06)(158,7.03)(159,7.07)(161,7.08)(162,7.02)(164,7.05)(165,7.1)(166,7.15)(167,7.25)(168,7.32)(169,7.28)(170,7.34)(171,7.3)(172,7.33)(173,7.36)(174,7.4)(175,7.36)(176,7.41)
};
\addplot[lockstyle, forget plot] coordinates {
(255,6.0)(258,6.05)(261,6.02)(263,6.08)(266,6.05)(268,6.1)(270,6.08)(273,6.02)(275,6.05)(278,6.0)(280,6.06)(283,6.02)(285,6.01)(288,6.07)(290,6.05)(293,6.1)(295,6.08)(298,6.02)(300,6.01)(302,6.06)(304,6.05)(306,6.12)(309,6.22)(311,6.28)(312,6.26)(314,6.22)(316,6.16)(317,6.12)(319,6.05)(321,6.15)(322,6.1)(324,6.08)(326,6.03)(328,6.1)(329,6.14)(331,6.22)(333,6.25)(334,6.2)(336,6.28)(338,6.15)(340,6.2)(341,6.25)(343,6.28)(345,6.24)(346,6.3)(348,6.33)
};
\addplot[lockstyle, forget plot] coordinates {
(365,6.09)(367,6.06)(369,6.02)(372,6.01)(374,6.05)(377,6.06)(379,6.02)(382,6.09)(384,6.05)(387,6.03)(389,6.07)(392,6.06)(394,6.02)(396,6.01)(398,6.06)(399,6.1)(401,6.16)(403,6.22)(404,6.26)(406,6.28)(407,6.2)(409,6.15)(411,6.04)(413,6.07)(416,6.06)(418,6.02)(421,6.01)(423,6.06)(426,6.03)(428,6.07)(430,6.06)(433,6.02)(435,6.03)(438,6.07)(440,6.05)(443,6.01)(445,6.04)(447,6.0)(449,6.02)(450,6.01)(452,5.87)(453,5.7)(454,5.55)
};
\addplot[lockstyle, forget plot] coordinates {
(481,6.03)(484,6.06)(486,6.02)(489,6.03)(491,6.07)(493,6.05)(496,6.02)(498,6.06)(501,6.08)(503,6.12)(505,6.2)(506,6.25)(508,6.21)(510,6.18)(512,6.14)(513,6.12)(515,6.06)(518,6.03)(520,6.07)(523,6.06)(525,6.02)(527,6.03)(530,6.08)(532,6.12)(534,6.17)(537,6.15)(539,6.12)(541,6.08)(542,6.06)(545,6.02)(547,6.05)(549,6.02)(552,6.03)(554,6.05)(556,6.02)(559,6.03)(561,6.0)(564,5.99)(565,5.81)(566,5.66)
};
\draw[framec, line width=0.9pt] (rel axis cs:0,1) -- (rel axis cs:1,1) -- (rel axis cs:1,0) -- (rel axis cs:0,0);
\draw[lrc, line width=0.9pt] (rel axis cs:0,0) -- (rel axis cs:0,1);
\node[font=\labfont, color=txt, anchor=base east, inner sep=0pt, yshift=-28.5pt] at (rel axis cs:1,0) {sec};
\end{axis}
% ---------------- outer labels ----------------
\node[rotate=90, font=\labfont, color=lrc, inner sep=0pt] at (24pt,283.5pt) {steps per cycle};
\node[rotate=90, font=\labfont, color=rtxt, inner sep=0pt] at (868.7pt,284.5pt) {Relative phase (deg)};
\node[anchor=base west, font=\fontsize{20}{22}\selectfont, inner sep=0pt, color=txt] at (6.5pt,498.5pt) {A)};
\node[anchor=base west, font=\fontsize{20}{22}\selectfont, inner sep=0pt, color=txt] at (434pt,498.5pt) {B)};
\end{tikzpicture}
\end{document}
